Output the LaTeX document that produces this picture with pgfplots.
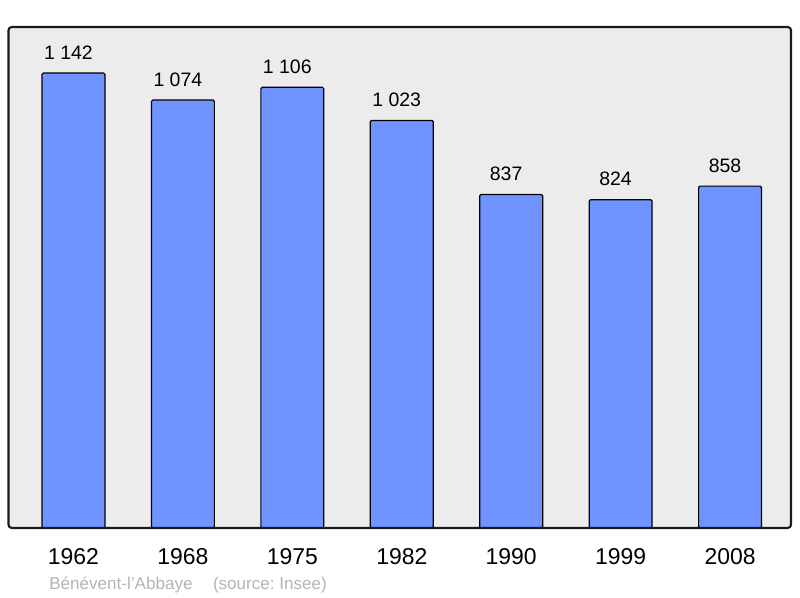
\documentclass[border=0pt]{standalone}
\usepackage{pgfplots}
\pgfplotsset{compat=1.18}
\usepackage{fontspec}
\setmainfont{Liberation Sans}
\frenchspacing
\definecolor{bgc}{HTML}{ECECEC}
\definecolor{barc}{HTML}{7094FF}
\definecolor{srcc}{HTML}{B4B4B4}
\definecolor{framec}{HTML}{1A1A1A}
\begin{document}
\begin{tikzpicture}
\begin{axis}[
  scale only axis,
  width=586.9pt, height=375.75pt,
  xmin=-0.594, xmax=6.557,
  ymin=0, ymax=1257.5,
  ybar, bar width=0.575,
  axis background/.style={fill=bgc},
  axis line style={draw=none},
  xtick=data,
  xticklabels={1962,1968,1975,1982,1990,1999,2008},
  xticklabel style={anchor=base, yshift=-27.75pt, font=\fontsize{17.2}{20}\selectfont},
  ytick=\empty,
  major tick length=0pt,
  nodes near coords,
  /pgf/number format/.cd, 1000 sep={\ }, assume math mode=true,
  /pgfplots/.cd,
  every node near coord/.append style={anchor=base, inner sep=0pt, yshift=10.5pt, xshift=-3.8pt, font=\fontsize{14.6}{17}\selectfont, text=black},
]
\addplot[fill=barc, draw=black, line width=0.9pt, rounded corners=1pt] coordinates {
  (0,1142) (1,1074) (2,1106) (3,1023) (4,837) (5,824) (6,858)
};
\end{axis}
\draw[framec, line width=1.6pt, rounded corners=2.5pt] (current axis.south west) rectangle (current axis.north east);
\node[anchor=base west, inner sep=0pt, text=srcc, font=\fontsize{12.8}{15}\selectfont] at ([xshift=30.4pt, yshift=-46.5pt]current axis.south west) {Bénévent-l'Abbaye\hspace{1.2em}(source: Insee)};
\path ([xshift=-6.375pt, yshift=-52.5pt]current axis.south west) rectangle ([xshift=6.75pt, yshift=20.25pt]current axis.north east);
\end{tikzpicture}
\end{document}
